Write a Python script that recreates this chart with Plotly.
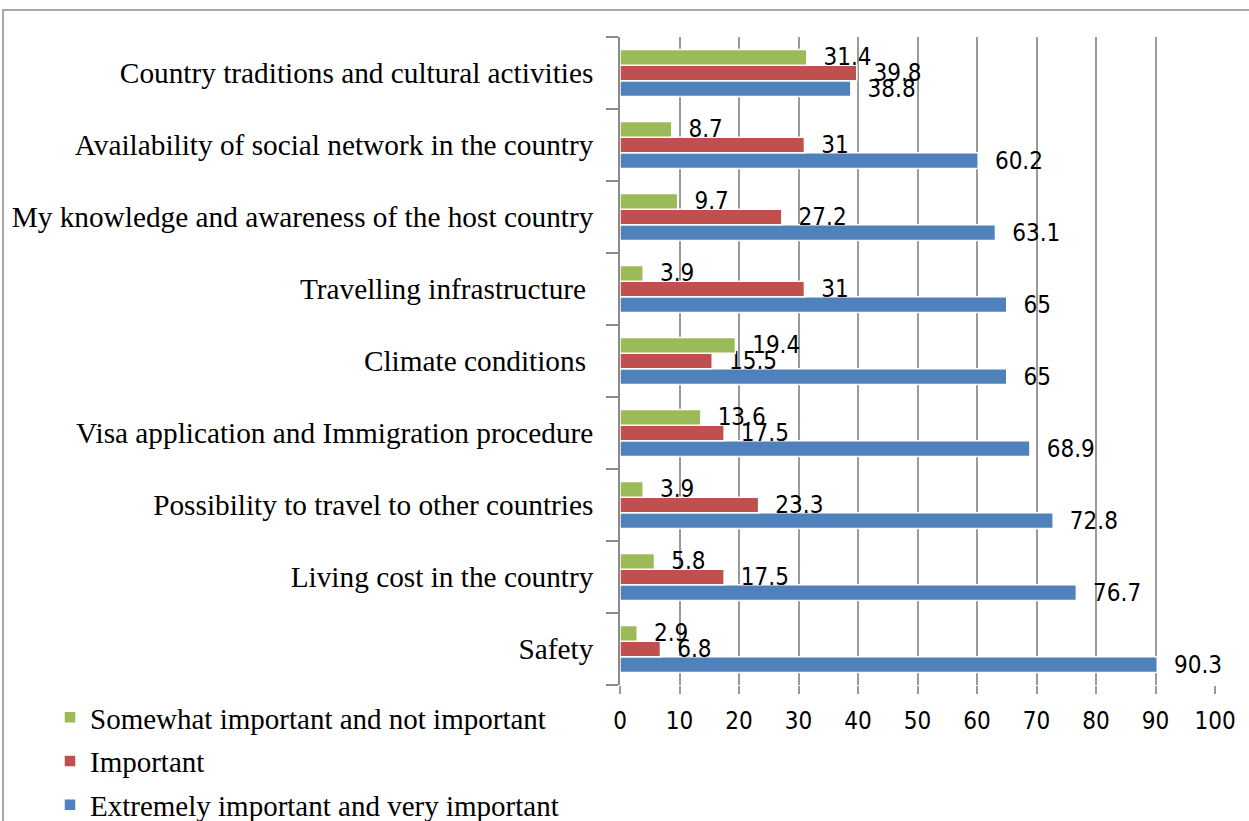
import plotly.graph_objects as go

categories = [
    "Safety",
    "Living cost in the country",
    "Possibility to travel to other countries",
    "Visa application and Immigration procedure",
    "Climate conditions ",
    "Travelling infrastructure ",
    "My knowledge and awareness of the host country",
    "Availability of social network in the country",
    "Country traditions and cultural activities",
]
extremely = [90.3, 76.7, 72.8, 68.9, 65, 65, 63.1, 60.2, 38.8]
important = [6.8, 17.5, 23.3, 17.5, 15.5, 31, 27.2, 31, 39.8]
somewhat = [2.9, 5.8, 3.9, 13.6, 19.4, 3.9, 9.7, 8.7, 31.4]
x_ticks = [0, 10, 20, 30, 40, 50, 60, 70, 80, 90, 100]

NUM_FONT = "DejaVu Sans Condensed, Liberation Sans Narrow, Arial Narrow, sans-serif"
SERIF = "Liberation Serif, Times New Roman, serif"

series = [
    ("Extremely important and very important", extremely, "#4F81BD"),
    ("Important", important, "#C0504D"),
    ("Somewhat important and not important", somewhat, "#9BBB59"),
]

fig = go.Figure()
for i, (name, vals, col) in enumerate(series):
    fig.add_trace(go.Bar(
        y=categories, x=vals, name=name, orientation="h",
        marker=dict(color=col, line=dict(color="white", width=1.5)),
        text=vals, texttemplate="  %{x}", textposition="outside",
        constraintext="none", cliponaxis=False,
        textfont=dict(family=NUM_FONT, size=24, color="black"),
        legendgroup=f"g{i}", legendrank=1000 - i,
    ))

fig.update_layout(
    width=1249, height=821,
    paper_bgcolor="white", plot_bgcolor="white",
    margin=dict(l=620, r=34, t=37, b=136),
    barmode="group", bargap=0.35, bargroupgap=0,
    showlegend=True,
    legend=dict(
        traceorder="grouped", orientation="v",
        xref="container", yref="container",
        x=50 / 1249, xanchor="left", y=1 - 692 / 821, yanchor="top",
        font=dict(family=SERIF, size=29, color="black"),
        tracegroupgap=3, bgcolor="rgba(0,0,0,0)",
        itemwidth=30,
    ),
    xaxis=dict(
        range=[0, 100], tickvals=x_ticks, automargin=False,
        showgrid=True, gridcolor="#9a9a9a", gridwidth=1.5,
        showline=False, zeroline=False,
        ticks="outside", ticklen=8, tickcolor="#9a9a9a", tickwidth=1.5,
        tickfont=dict(family=NUM_FONT, size=24, color="black"),
        ticklabelstandoff=6,
    ),
    yaxis=dict(
        automargin=False,
        showline=True, linecolor="#8a8a8a", linewidth=1.5,
        ticks="outside", ticklen=12, tickcolor="#8a8a8a", tickwidth=1.5,
        tickson="boundaries",
        tickfont=dict(family=SERIF, size=29.3, color="black"),
        ticklabelstandoff=19,
        showgrid=False,
    ),
    shapes=[dict(
        type="rect", xref="paper", yref="paper",
        x0=(3 - 620) / 595, x1=1.2, y0=-0.5, y1=1 + (37 - 10) / 648,
        line=dict(color="#8c8c8c", width=1.5), fillcolor="rgba(0,0,0,0)",
        layer="below",
    )],
)

fig.write_html("out.html", config={"displayModeBar": False},
               post_script="document.body.style.margin='0';")
